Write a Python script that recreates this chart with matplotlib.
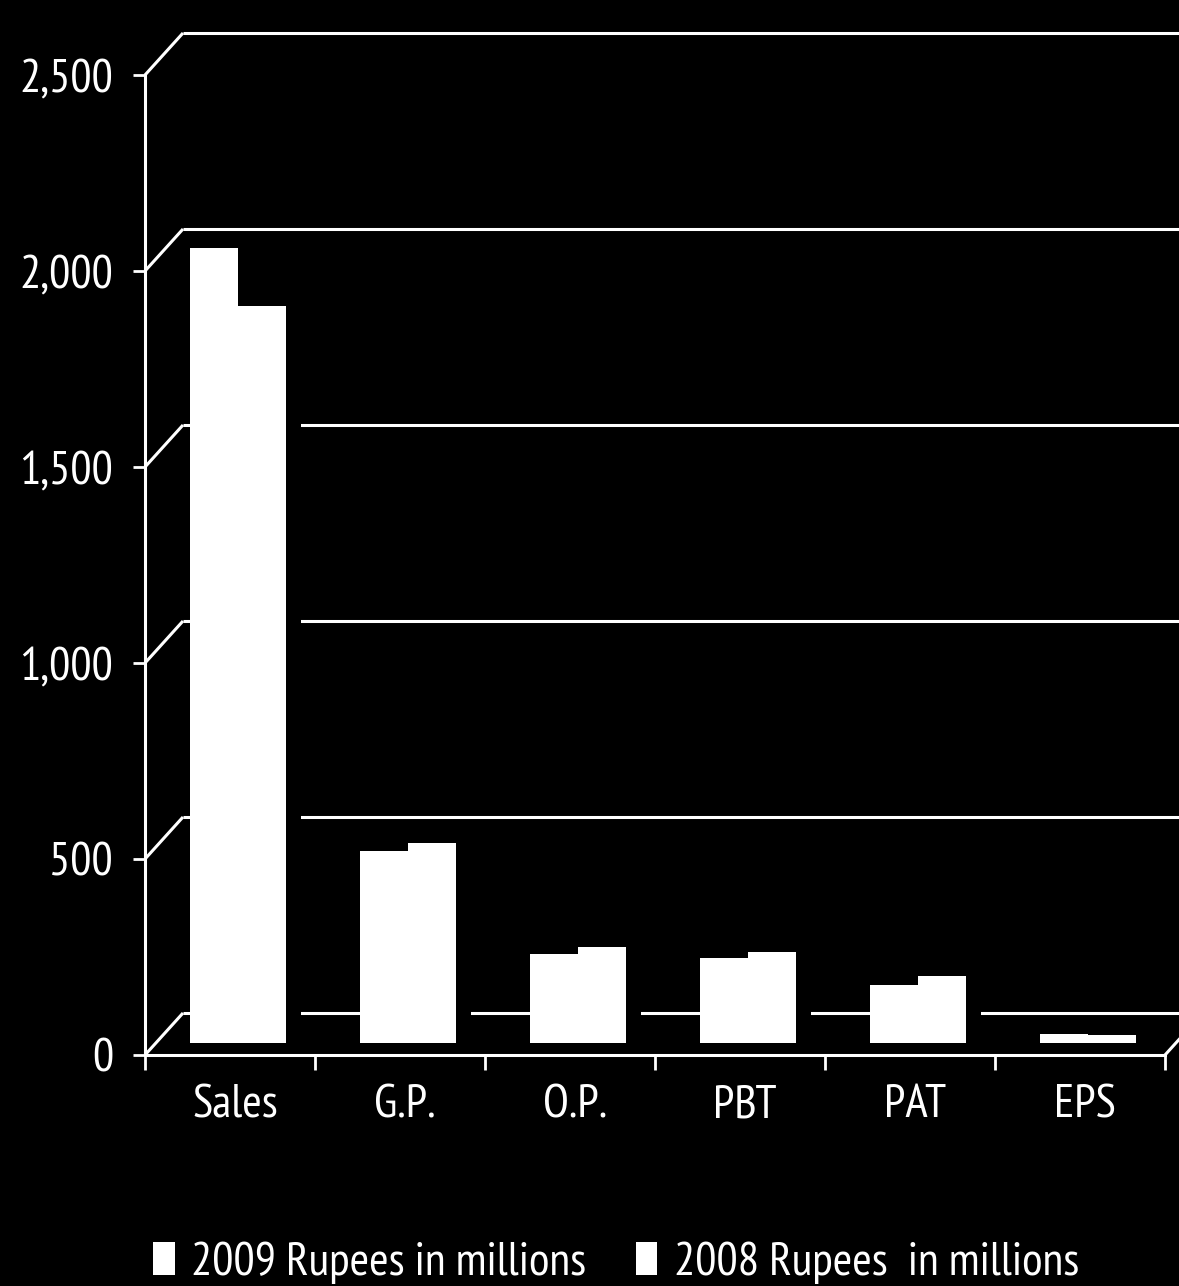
import matplotlib
matplotlib.use("Agg")
import matplotlib.pyplot as plt
import matplotlib.transforms as mtransforms
from matplotlib import font_manager as fm
from matplotlib.patches import Patch
import numpy as np

# Financial highlights (Rupees in millions; EPS in Rupees)
categories = ["Sales", "G.P.", "O.P.", "PBT", "PAT", "EPS"]
values_2009 = [2029, 491, 226, 218, 149, 22]
values_2008 = [1879, 511, 246, 233, 170, 21]
y_ticks = [0, 500, 1000, 1500, 2000, 2500]
y_tick_labels = ["0", "500", "1,000", "1,500", "2,000", "2,500"]
legend_labels = ["2009 Rupees in millions", "2008 Rupees  in millions"]

# pick a condensed humanist sans if one is installed
installed = {f.name for f in fm.fontManager.ttflist}
preferred = ["PT Sans Narrow", "Fira Sans Condensed", "Roboto Condensed", "Open Sans Condensed",
             "Encode Sans Condensed", "Asap Condensed", "Liberation Sans Narrow", "Archivo Narrow"]
family = next((name for name in preferred if name in installed), "DejaVu Sans")
plt.rcParams["font.family"] = [family, "DejaVu Sans"]

W, H, DPI = 1179, 1286, 100
fig = plt.figure(figsize=(W / DPI, H / DPI), dpi=DPI, facecolor="black")
ax = fig.add_axes([145 / W, 231 / H, 1020 / W, 980 / H])
ax.set_facecolor("black")

n = len(categories)
x = np.arange(n)
x_lo, x_hi = -0.5, n - 0.5
y_lo, y_hi = y_ticks[0], y_ticks[-1]

# pixel scale of the data axes, used for the oblique depth of the box
px_per_x = 1020 / (x_hi - x_lo)
px_per_y = 980 / (y_hi - y_lo)
depth_x = 38 / px_per_x
depth_y = 42 / px_per_y

LINE = dict(color="white", lw=2.2, solid_capstyle="butt", clip_on=False)

# back wall gridlines and side wall diagonals
for v in y_ticks:
    ax.plot([x_lo + depth_x, x_hi + 0.4], [v + depth_y, v + depth_y], zorder=1, **LINE)
    ax.plot([x_lo, x_lo + depth_x], [v, v + depth_y], zorder=1, **LINE)
# floor edge on the right
ax.plot([x_hi, x_hi + depth_x], [0, depth_y], zorder=1, **LINE)


def shifted(dx, dy):
    return ax.transData + mtransforms.ScaledTranslation(dx / DPI, dy / DPI, fig.dpi_scale_trans)


bw = 0.28
front = (8, 12)
bar_depth = 15

# dark bodies of the bars (hide the wall lines behind them)
for t in np.linspace(0, 1, 10):
    tr = shifted(front[0] + t * bar_depth, front[1] + t * bar_depth * 0.8)
    ax.bar(x - bw / 2, values_2009, bw, color="black", lw=0, transform=tr, zorder=2, clip_on=False)
    ax.bar(x + bw / 2, values_2008, bw, color="black", lw=0, transform=tr, zorder=2, clip_on=False)

# front faces
ax.bar(x - bw / 2, values_2009, bw, color="white", lw=0, transform=shifted(*front), zorder=3, clip_on=False)
ax.bar(x + bw / 2, values_2008, bw, color="white", lw=0, transform=shifted(*front), zorder=3, clip_on=False)

ax.set_xlim(x_lo, x_hi)
ax.set_ylim(y_lo, y_hi)

for side in ("top", "right"):
    ax.spines[side].set_visible(False)
for side in ("left", "bottom"):
    ax.spines[side].set_color("white")
    ax.spines[side].set_linewidth(2.2)
    ax.spines[side].set_zorder(4)

ax.set_yticks(y_ticks)
ax.set_yticklabels(y_tick_labels)
ax.tick_params(axis="y", direction="out", length=9, width=2, color="white",
               labelcolor="white", labelsize=34, pad=14)

ax.set_xticks(x)
ax.set_xticklabels(categories)
ax.set_xticks(np.arange(x_lo, x_hi + 0.01, 1.0), minor=True)
ax.tick_params(axis="x", which="major", length=0, labelcolor="white", labelsize=34, pad=21)
ax.tick_params(axis="x", which="minor", direction="out", length=11, width=2, color="white")
for lbl in ax.get_xticklabels():
    lbl.set_transform(lbl.get_transform() + mtransforms.ScaledTranslation(5 / DPI, 0, fig.dpi_scale_trans))

handles = [Patch(facecolor="white", edgecolor="none"), Patch(facecolor="white", edgecolor="none")]
fig.legend(handles, legend_labels, loc="center", bbox_to_anchor=(0.5225, 1 - 1263 / H),
           ncol=2, frameon=False, labelcolor="white", fontsize=34,
           handlelength=0.45, handleheight=0.7, handletextpad=0.35, columnspacing=1.05)

fig.savefig("out.png", dpi=DPI, facecolor="black")
